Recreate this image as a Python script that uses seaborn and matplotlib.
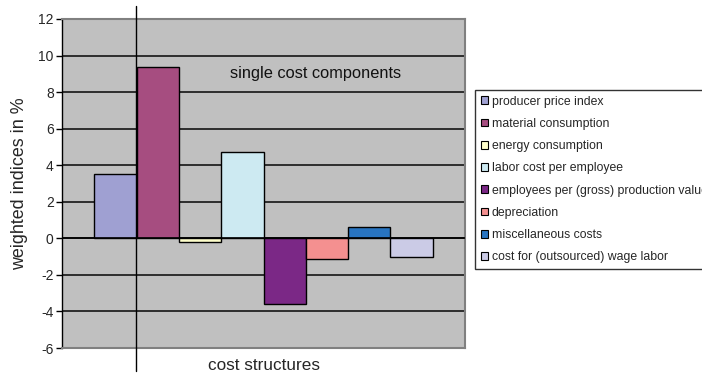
import matplotlib
matplotlib.use("Agg")
import matplotlib.pyplot as plt
from matplotlib.lines import Line2D
import seaborn as sns
import pandas as pd

# Cost components and their weighted index values (in %)
components = [
    "producer price index",
    "material consumption",
    "energy consumption",
    "labor cost per employee",
    "employees per (gross) production value",
    "depreciation",
    "miscellaneous costs",
    "cost for (outsourced) wage labor",
]
values = [3.5, 9.4, -0.2, 4.75, -3.6, -1.15, 0.6, -1.0]
colors = ["#9fa0d2", "#a64d80", "#ffffcc", "#cdeaf2", "#7b2886", "#f49090", "#2874c0", "#cbcbe6"]
yticks = [-6, -4, -2, 0, 2, 4, 6, 8, 10, 12]

df = pd.DataFrame({"group": ["cost structures"] * len(components),
                   "component": components,
                   "value": values})

sns.set_theme(style="white")
plt.rcParams["font.family"] = ["Liberation Sans", "DejaVu Sans"]

fig = plt.figure(figsize=(7.02, 3.82), dpi=100)
ax = fig.add_axes([62 / 702, 34 / 382, 403 / 702, 329 / 382])
ax.set_facecolor("#c0c0c0")

sns.barplot(data=df, x="group", y="value", hue="component",
            hue_order=components, palette=colors, width=0.84,
            edgecolor="black", linewidth=1.0, saturation=1,
            errorbar=None, ax=ax, zorder=3)

ax.set_xlim(-0.5, 0.5)
ax.set_ylim(-6, 12)
ax.set_yticks(yticks)
ax.set_yticklabels([str(t) for t in yticks], fontsize=10)
ax.yaxis.grid(True, color="#151515", linewidth=1.2, zorder=1)
ax.set_axisbelow(True)
ax.axhline(0, color="black", linewidth=1.2, zorder=4)
ax.tick_params(axis="y", which="major", direction="out", length=4, width=1,
               color="black", left=True, pad=2)
ax.set_xticks([])
ax.set_xlabel("cost structures", fontsize=12.3, labelpad=7)
ax.set_ylabel("weighted indices in %", fontsize=12.9, labelpad=7)

for side in ["top", "right", "bottom"]:
    ax.spines[side].set_color("#808080")
    ax.spines[side].set_linewidth(1.5)
ax.spines["left"].set_color("black")
ax.spines["left"].set_linewidth(1.0)

ax.text(0.13, 9.0, "single cost components", fontsize=11.8, ha="center",
        va="center", color="#111111", zorder=5)

# Vertical rule through the chart
fig.add_artist(Line2D([135.5 / 702, 135.5 / 702], [1 - 6 / 382, 1 - 371 / 382],
                      color="black", linewidth=1.0))

leg = ax.legend(loc="upper left", bbox_to_anchor=(475 / 702, 1 - 90 / 382),
                bbox_transform=fig.transFigure, borderaxespad=0,
                fontsize=8.8, frameon=True, fancybox=False,
                handlelength=0.6, handleheight=0.6, handletextpad=0.3,
                labelspacing=0.84, borderpad=0.45, title=None)
leg.get_frame().set_edgecolor("black")
leg.get_frame().set_linewidth(1.0)
leg.get_frame().set_facecolor("white")
for h in leg.legend_handles:
    h.set_edgecolor("black")
    h.set_linewidth(0.8)

fig.savefig("out.png", dpi=100)
